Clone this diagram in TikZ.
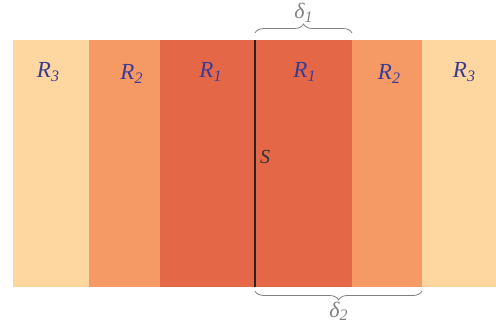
\documentclass[tikz,border=0pt]{standalone}
\usepackage{fontspec}
\setmainfont{Liberation Serif}
\usetikzlibrary{positioning, calc, decorations.pathreplacing}
\definecolor{rone}{rgb}{0.894, 0.408, 0.282}
\definecolor{rtwo}{rgb}{0.961, 0.604, 0.396}
\definecolor{rthree}{rgb}{0.992, 0.839, 0.627}
\definecolor{labelblue}{rgb}{0.231, 0.231, 0.588}
\definecolor{bracegray}{rgb}{0.50, 0.50, 0.50}
\newcommand{\lowsub}[1]{\raisebox{-0.35ex}{\fontsize{16}{16}\selectfont\itshape #1}}

\begin{document}
\begin{tikzpicture}[x=1pt, y=-1pt]
% Define styles
\tikzset{band/.style={draw=none, minimum height=247pt, inner sep=0pt, outer sep=0pt},
  rlabel/.style={labelblue, font=\fontsize{23}{23}\selectfont\itshape},
  dbrace/.style={bracegray, line width=0.8pt, decorate, decoration={brace, amplitude=9pt}},
  dlabel/.style={bracegray, font=\fontsize{22}{22}\selectfont\itshape}}

\useasboundingbox (0,0) rectangle (496,335);

% Bands, left to right
\node[band, fill=rthree, minimum width=76pt, anchor=north west] (r3l) at (13,40) {};
\node[band, fill=rtwo, minimum width=71pt, right=0pt of r3l] (r2l) {};
\node[band, fill=rone, minimum width=95pt, right=0pt of r2l] (r1l) {};
\node[band, fill=rone, minimum width=97pt, right=0pt of r1l] (r1r) {};
\node[band, fill=rtwo, minimum width=70pt, right=0pt of r1r] (r2r) {};
\node[band, fill=rthree, minimum width=74pt, right=0pt of r2r] (r3r) {};

% Labels
\node[rlabel] (l3l) at ($(r3l.north)+(-3,32)$) {R\lowsub{3}};
\node[rlabel] (l2l) at ($(r2l.north)+(7,34)$) {R\lowsub{2}};
\node[rlabel] (l1l) at ($(r1l.north)+(3,32)$) {R\lowsub{1}};
\node[rlabel] (l1r) at ($(r1r.north)+(1,32)$) {R\lowsub{1}};
\node[rlabel] (l2r) at ($(r2r.north)+(2,34)$) {R\lowsub{2}};
\node[rlabel] (l3r) at ($(r3r.north)+(5,32)$) {R\lowsub{3}};

% Surface
\draw[black!85, line width=2pt] (r1r.north west) -- (r1r.south west);
\node[font=\fontsize{20}{20}\selectfont\itshape, black!80] (s) at (265,157) {S};

% Braces
\draw[dbrace] ([yshift=7pt]r1r.north west) -- ([yshift=7pt]r1r.north east)
  node[midway, above=7pt, dlabel] (d1) {δ\lowsub{1}};
\draw[dbrace] ([yshift=-4pt]r2r.south east) -- ([yshift=-4pt]r1r.south west)
  node[midway, below=7pt, dlabel] (d2) {δ\lowsub{2}};
\end{tikzpicture}
\end{document}
